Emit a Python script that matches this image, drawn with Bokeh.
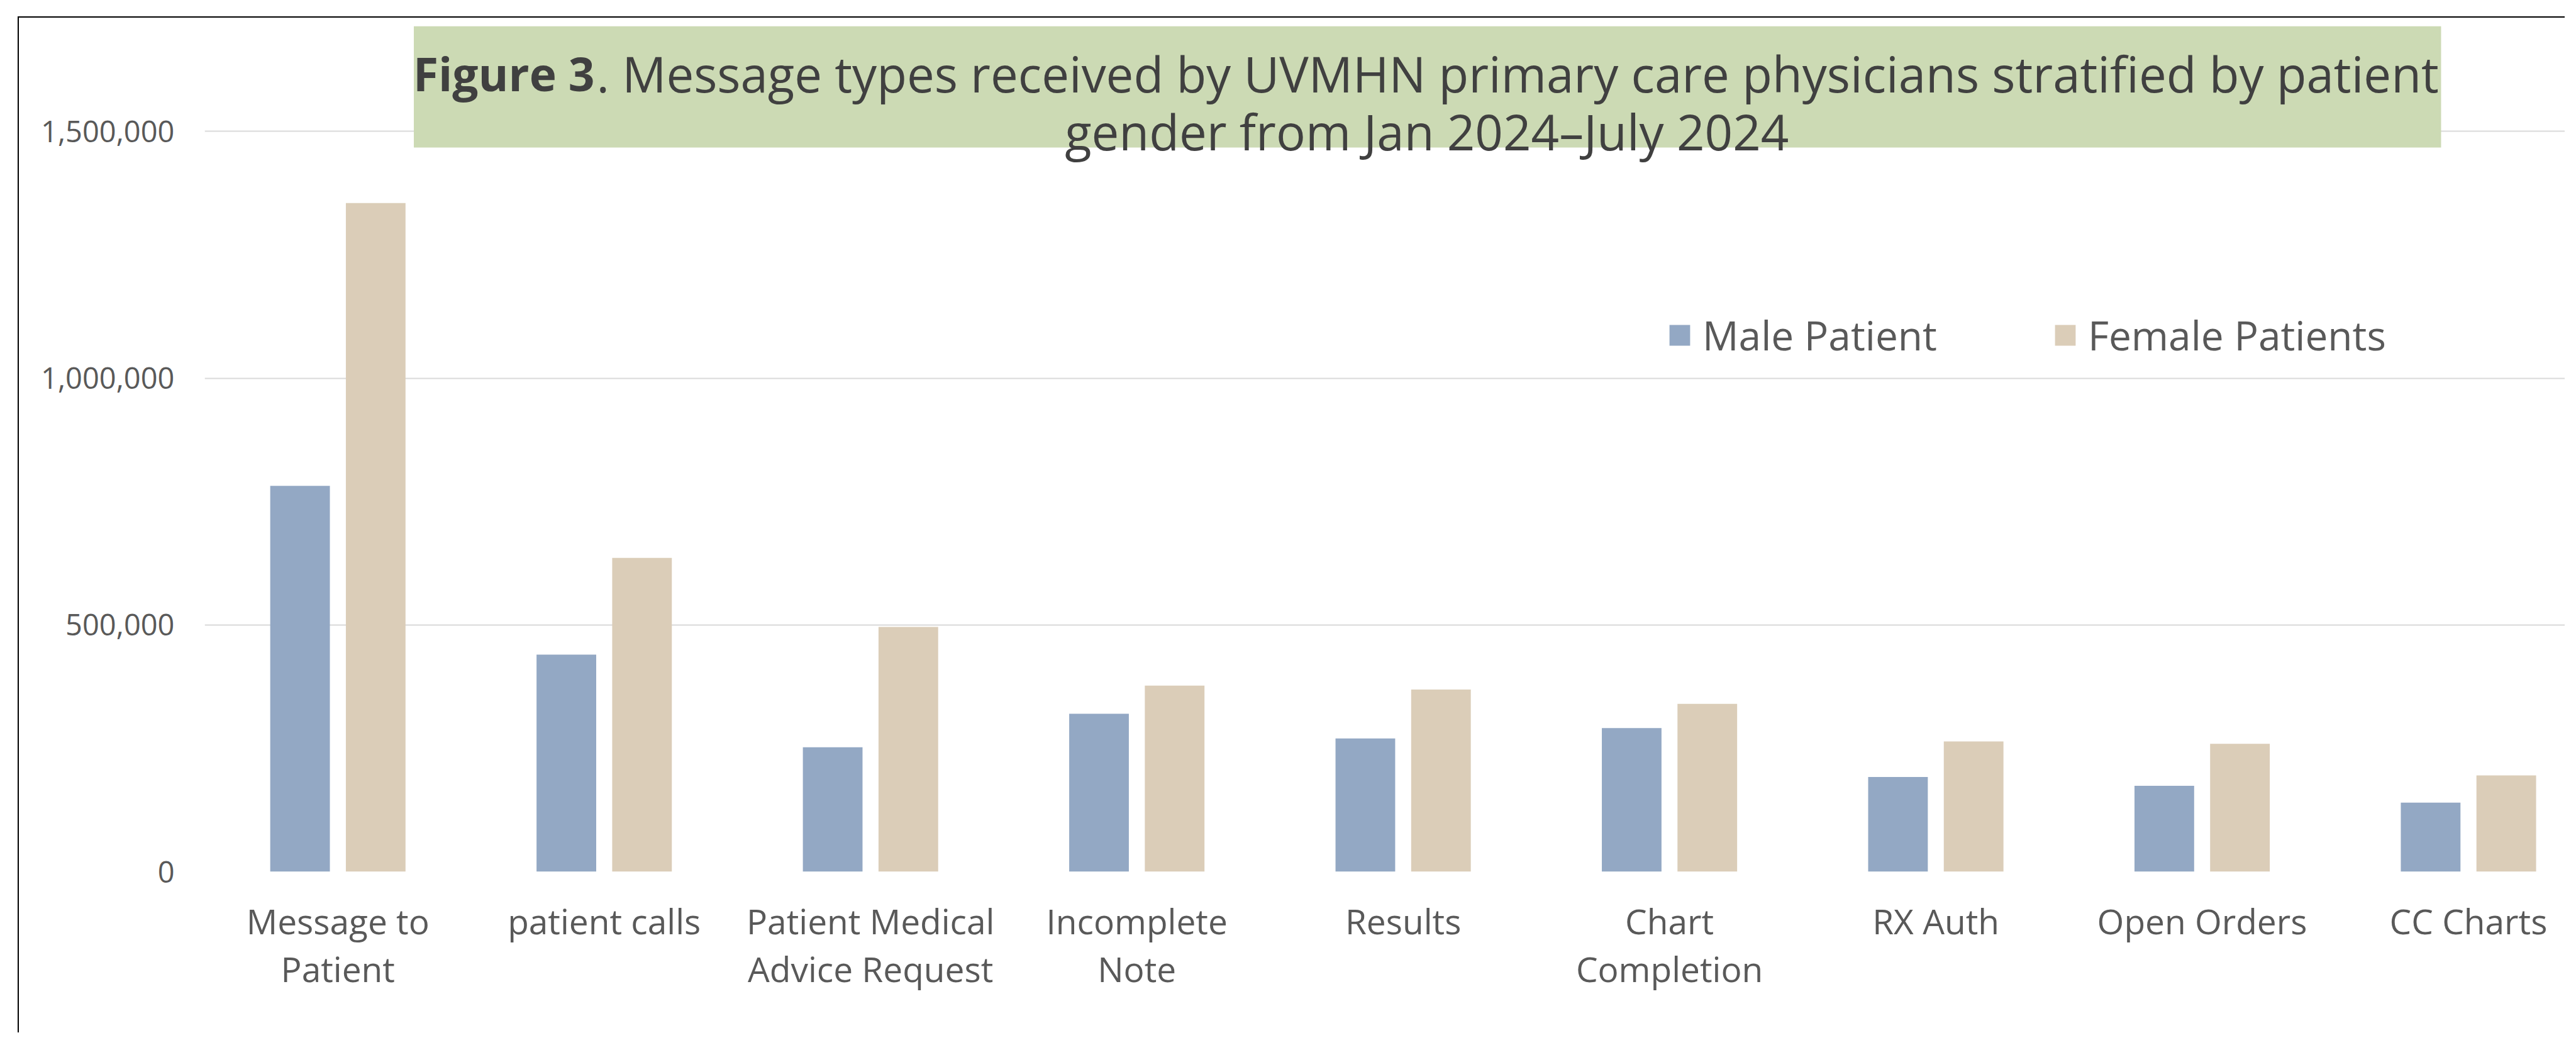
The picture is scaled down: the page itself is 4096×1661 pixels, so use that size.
from bokeh.plotting import figure
from bokeh.models import (ColumnDataSource, FixedTicker, BoxAnnotation, Label,
                          Legend, LegendItem, NumeralTickFormatter, Range1d)
from bokeh.embed import file_html
from bokeh.resources import INLINE

# ---------------- data ----------------
categories = ["Message to\nPatient", "patient calls", "Patient Medical\nAdvice Request",
              "Incomplete\nNote", "Results", "Chart\nCompletion", "RX Auth",
              "Open Orders", "CC Charts"]
male_patient = [782000, 440000, 252000, 320000, 270000, 291000, 192000, 174000, 140000]
female_patients = [1355000, 636000, 496000, 377000, 369000, 340000, 264000, 259000, 195000]
series_names = ["Male Patient", "Female Patients"]
y_tick_values = [0, 500000, 1000000, 1500000]
title_bold = "Figure 3"
title_rest = ". Message types received by UVMHN primary care physicians stratified by patient"
title_line2 = "gender from Jan 2024\u2013July 2024"

# ---------------- styling / geometry ----------------
FONT = "Open Sans"
MALE_COLOR = "#93A8C4"
FEMALE_COLOR = "#DBCDB8"
TITLE_BG = "#CCDAB4"
TEXT_DARK = "#404040"
TEXT_MID = "#595959"
GRID = "#D9D9D9"

W, H = 4050, 1615
FL, FB = 295, 258          # frame left border, bottom border (px)
CAT_PX = 423.47            # px per category
VAL_PX = 392.18 / 500000   # px per unit value

n = len(categories)
x_end = (W - FL) / CAT_PX
y_end = (H - FB) / VAL_PX

centers = [i + 0.5 for i in range(n)]
off = 0.142
bw = 0.224

src = ColumnDataSource(dict(
    xm=[c - off for c in centers], xf=[c + off for c in centers],
    male=male_patient, female=female_patients))

p = figure(width=W, height=H, output_backend="svg", toolbar_location=None,
           x_range=Range1d(0, x_end), y_range=Range1d(0, y_end),
           min_border_left=FL, min_border_bottom=FB, min_border_top=0,
           min_border_right=0, background_fill_color="white",
           border_fill_color="white", outline_line_color=None)
p.margin = (26, 0, 0, 28)
p.styles = {"border-left": "2px solid #000000", "border-top": "2px solid #000000"}

r_m = p.vbar(x="xm", top="male", width=bw, source=src, fill_color=MALE_COLOR, line_color=None)
r_f = p.vbar(x="xf", top="female", width=bw, source=src, fill_color=FEMALE_COLOR, line_color=None)

# y axis
yax = p.yaxis[0]
yax.ticker = FixedTicker(ticks=y_tick_values)
yax.formatter = NumeralTickFormatter(format="0,0")
yax.axis_line_color = None
yax.major_tick_line_color = None
yax.minor_tick_line_color = None
yax.major_tick_out = 0
yax.major_tick_in = 0
yax.major_label_standoff = 48
yax.major_label_text_font = FONT
yax.major_label_text_font_size = "47px"
yax.major_label_text_color = TEXT_MID

# x axis
xax = p.xaxis[0]
xax.ticker = FixedTicker(ticks=centers)
xax.major_label_overrides = {c: lab for c, lab in zip(centers, categories)}
xax.axis_line_color = None
xax.major_tick_line_color = None
xax.minor_tick_line_color = None
xax.major_tick_out = 0
xax.major_tick_in = 0
xax.major_label_standoff = 40
xax.major_label_text_font = FONT
xax.major_label_text_font_size = "55px"
xax.major_label_text_line_height = 1.02
xax.major_label_text_color = TEXT_MID

p.xgrid.grid_line_color = None
p.ygrid.ticker = FixedTicker(ticks=y_tick_values)
p.ygrid.grid_line_color = GRID
p.ygrid.grid_line_width = 2

# title box
def dx(X):  # reference-pixel helper -> data x
    return (X - 335) / 433.0

def dy(Y):
    return (1416 - Y) / 401.0 * 500000

p.add_layout(BoxAnnotation(left=dx(675), right=dx(3971), top=dy(42), bottom=dy(239),
                           fill_color=TITLE_BG, fill_alpha=1.0, line_color=None,
                           level="annotation"))
p.add_layout(Label(x=dx(969), y=dy(118.5), text=title_bold, text_font=FONT,
                   text_font_style="bold", text_font_size="73px", text_color=TEXT_DARK,
                   text_align="right", text_baseline="alphabetic"))
p.add_layout(Label(x=dx(972), y=dy(118.5), text=title_rest, text_font=FONT,
                   text_font_size="78px", text_color=TEXT_DARK,
                   text_align="left", text_baseline="alphabetic"))
p.add_layout(Label(x=dx(2322), y=dy(213), text=title_line2, text_font=FONT,
                   text_font_size="78px", text_color=TEXT_DARK,
                   text_align="center", text_baseline="alphabetic"))

# legend
legend = Legend(items=[LegendItem(label=series_names[0], renderers=[r_m]),
                       LegendItem(label=series_names[1], renderers=[r_f])],
                orientation="horizontal", location=(2325, 809),
                glyph_width=41, glyph_height=41, label_standoff=16, spacing=183,
                padding=0, margin=0, border_line_color=None,
                background_fill_alpha=0.0,
                label_text_font=FONT, label_text_font_size="64px",
                label_text_color=TEXT_MID)
p.add_layout(legend, "center")

open("out.html", "w").write(file_html(p, INLINE))
